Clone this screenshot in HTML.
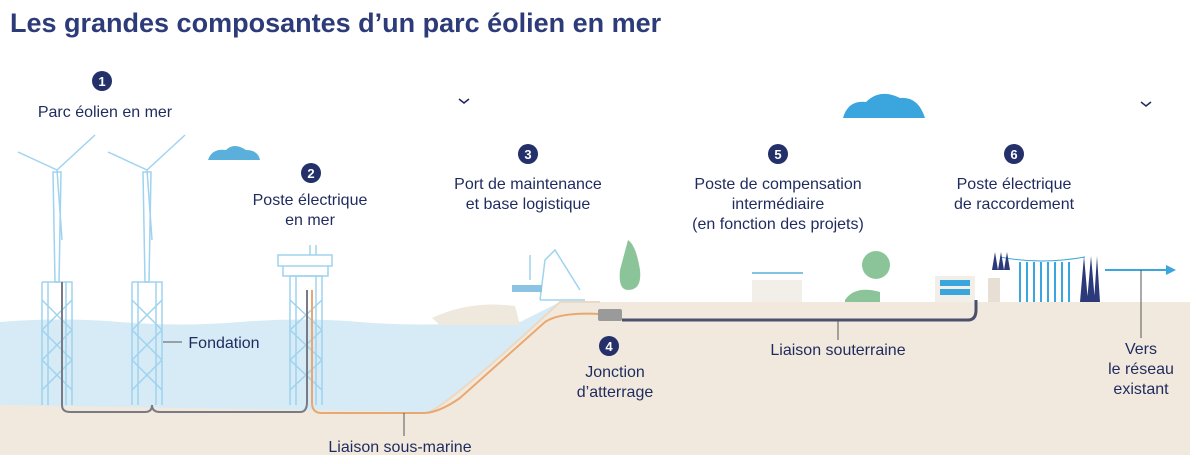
<!DOCTYPE html>
<html><head><meta charset="utf-8"><style>
html,body{margin:0;padding:0;background:#fff;}
svg{display:block;}
text{font-family:"Liberation Sans",sans-serif;fill:#1f2b5e;}
</style></head><body>
<svg width="1196" height="464" viewBox="0 0 1196 464" xmlns="http://www.w3.org/2000/svg">
<text x="10" y="32" font-size="27" font-weight="bold" style="fill:#2d3b78">Les grandes composantes d’un parc éolien en mer</text>
<!-- water -->
<path d="M0 322 Q60 317 120 322 T240 322 T360 322 T480 322 L520 322 L560 302 L560 420 L0 420Z" fill="#d6ebf5"/>
<!-- sand -->
<path d="M0 405 L430 412 Q460 395 560 302 L1190 302 L1190 455 L0 455Z" fill="#f1e9dd"/>
<path d="M430 412 Q460 395 560 302 L600 302" fill="none" stroke="#ecd9c3" stroke-width="2"/>
<!-- clouds -->
<path d="M208 160 Q212 148 226 150 Q234 142 246 150 Q258 150 260 160Z" fill="#5ab0db"/>
<path d="M843 118 Q848 100 866 102 Q880 88 900 98 Q918 96 925 118Z" fill="#3aa6dd"/>
<path d="M459 99 l5 4 l5 -4" stroke="#1f2b5e" stroke-width="1.5" fill="none"/>
<path d="M1141 102 l5 4 l5 -4" stroke="#1f2b5e" stroke-width="1.5" fill="none"/>
<!-- turbines -->
<g stroke="#9fd3ef" stroke-width="1.5" fill="none">
<g id="t1">
<path d="M53 172 L55 282 L59 282 L61 172Z"/>
<path d="M57 170 L18 152 M57 170 L95 135 M57 170 L62 240"/>
<path d="M42 282 H72 V405 M42 282 V405 M48 282 V405 M66 282 V405"/>
<path d="M42 300 L72 330 M72 300 L42 330 M42 330 L72 360 M72 330 L42 360 M42 360 L72 390 M72 360 L42 390"/>
</g>
<use href="#t1" transform="translate(90,0)"/>
<!-- substation -->
<path d="M278 255 H332 V266 H278Z M283 266 V276 H328 V266 M310 245 V255 M316 245 V255"/>
<path d="M290 276 H322 V405 M290 276 V405 M296 276 V405 M316 276 V405"/>
<path d="M290 300 L322 330 M322 300 L290 330 M290 330 L322 360 M322 330 L290 360 M290 360 L322 390 M322 360 L290 390"/>
<!-- crane -->
<path d="M540 300 L545 260 L555 250 L580 290 M540 300 H585 M530 255 V280"/>
</g>
<rect x="512" y="285" width="30" height="7" fill="#8cc3e2"/>
<path d="M432 318 Q470 300 515 306 L520 325 L440 325Z" fill="#efe8dd"/>
<!-- trees -->
<path d="M628 240 Q636 245 640 270 Q642 290 628 290 Q618 290 620 270Z" fill="#8cc49a"/>
<path d="M862 265 a14 14 0 1 1 28 0 a14 14 0 1 1 -28 0Z M845 300 Q855 285 880 292 L880 302 L845 302Z" fill="#8cc49a"/>
<!-- compensation station -->
<rect x="752" y="280" width="50" height="22" fill="#f2eee8"/>
<line x1="752" y1="273" x2="803" y2="273" stroke="#5ab0db" stroke-width="1.5"/>
<!-- substation raccordement -->
<rect x="935" y="276" width="40" height="26" fill="#f2eee8"/>
<rect x="940" y="280" width="30" height="6" fill="#3aa6dd"/><rect x="940" y="289" width="30" height="6" fill="#3aa6dd"/>
<rect x="988" y="278" width="12" height="24" fill="#e8dfd4"/>
<g stroke="#3aa6dd" stroke-width="2">
<path d="M1020 262 V302 M1027 262 V302 M1034 262 V302 M1041 262 V302 M1048 262 V302 M1055 262 V302 M1062 262 V302 M1069 262 V302"/>
</g>
<path d="M1000 257 Q1040 265 1085 257" stroke="#3aa6dd" fill="none"/>
<g fill="#2d3a7a"><path d="M992 270 l3 -18 l3 18Z M998 270 l3 -18 l3 18Z M1004 270 l3 -18 l3 18Z M1080 302 l4 -46 l4 46Z M1087 302 l4 -46 l4 46Z M1094 302 l3 -46 l3 46Z"/></g>
<line x1="1105" y1="270" x2="1168" y2="270" stroke="#3aa6dd" stroke-width="2"/>
<path d="M1166 265 L1176 270 L1166 275Z" fill="#3aa6dd"/>
<line x1="1141" y1="270" x2="1141" y2="338" stroke="#555" stroke-width="1"/>
<!-- cables -->
<path d="M62 282 V405 Q62 412 70 412 H145 Q152 412 152 405 Q152 412 160 412 H300 Q307 412 307 402 V290" fill="none" stroke="#7a7a85" stroke-width="2"/>
<path d="M312 290 V403 Q312 413 322 413 L425 413 Q440 412 460 398 L545 322 Q560 312 600 314" fill="none" stroke="#e9a872" stroke-width="2"/>
<rect x="598" y="309" width="24" height="12" rx="2" fill="#9a9a9a"/>
<path d="M622 320 H968 Q976 320 976 310 V300" fill="none" stroke="#4b4f6e" stroke-width="3"/>
<line x1="163" y1="342" x2="182" y2="342" stroke="#555"/>
<line x1="404" y1="413" x2="404" y2="436" stroke="#555"/>
<line x1="838" y1="320" x2="838" y2="340" stroke="#555"/>
<!-- number badges -->
<g font-size="13" font-weight="bold" text-anchor="middle">
<circle cx="102" cy="81" r="10" fill="#23306a"/><text x="102" y="86" style="fill:#fff">1</text>
<circle cx="311" cy="173" r="10" fill="#23306a"/><text x="311" y="178" style="fill:#fff">2</text>
<circle cx="528" cy="154" r="10" fill="#23306a"/><text x="528" y="159" style="fill:#fff">3</text>
<circle cx="609" cy="346" r="10" fill="#23306a"/><text x="609" y="351" style="fill:#fff">4</text>
<circle cx="778" cy="154" r="10" fill="#23306a"/><text x="778" y="159" style="fill:#fff">5</text>
<circle cx="1014" cy="154" r="10" fill="#23306a"/><text x="1014" y="159" style="fill:#fff">6</text>
</g>
<g font-size="16" text-anchor="middle">
<text x="105" y="117">Parc éolien en mer</text>
<text x="310" y="205">Poste électrique</text><text x="310" y="225">en mer</text>
<text x="528" y="189">Port de maintenance</text><text x="528" y="209">et base logistique</text>
<text x="778" y="189">Poste de compensation</text><text x="778" y="209">intermédiaire</text><text x="778" y="229">(en fonction des projets)</text>
<text x="1014" y="189">Poste électrique</text><text x="1014" y="209">de raccordement</text>
<text x="615" y="377">Jonction</text><text x="615" y="397">d’atterrage</text>
<text x="838" y="355">Liaison souterraine</text>
<text x="400" y="452">Liaison sous-marine</text>
<text x="1141" y="354">Vers</text><text x="1141" y="374">le réseau</text><text x="1141" y="394">existant</text>
<text x="224" y="348">Fondation</text>
</g>
</svg>
</body></html>
